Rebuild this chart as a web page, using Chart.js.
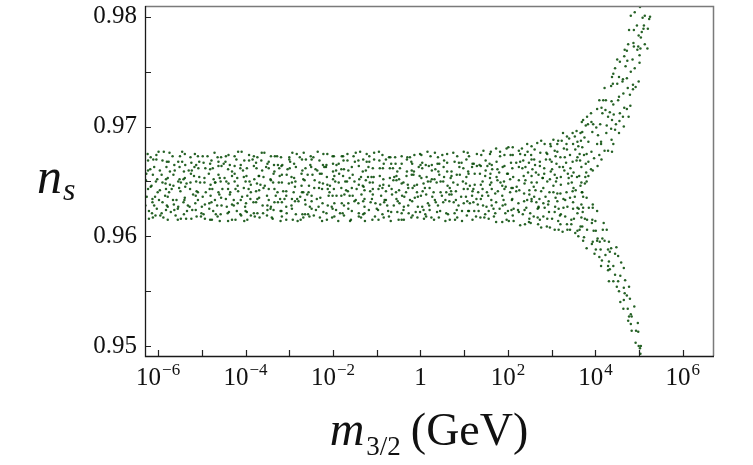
<!DOCTYPE html>
<html>
<head>
<meta charset="utf-8">
<script src="https://cdn.jsdelivr.net/npm/chart.js@4"></script>
<style>
  html, body { margin: 0; padding: 0; background: #fff; overflow: hidden; }
  canvas { display: block; }
</style>
</head>
<body>
<canvas id="chart" width="753" height="465"></canvas>
<script>
// scan points: [log10(m3/2 / GeV), n_s]
// flat band, 10^-6.3 .. 10^1.7 GeV
const bandPoints = [
  [-6.21,.9616],[-6.21,.9623],[-6.29,.9628],[-6.26,.9636],[-6.23,.9643],[-6.28,.9651],[-6.27,.9657],[-6.23,.9660],[-6.23,.9669],[-6.24,.9675],
  [-6.12,.9617],[-6.14,.9621],[-6.13,.9631],[-6.13,.9634],[-6.17,.9645],[-6.15,.9646],[-6.12,.9656],[-6.18,.9661],[-6.11,.9670],[-6.17,.9672],
  [-6.06,.9619],[-6.03,.9625],[-6.09,.9628],[-6.07,.9636],[-6.01,.9640],[-6.05,.9650],[-6.02,.9652],[-6.09,.9663],[-6.04,.9670],[-6.04,.9674],
  [-5.95,.9619],[-5.92,.9621],[-5.90,.9631],[-5.98,.9633],[-5.96,.9642],[-5.90,.9649],[-5.92,.9656],[-5.96,.9660],[-5.90,.9669],[-5.99,.9677],
  [-5.88,.9617],[-5.82,.9624],[-5.80,.9628],[-5.84,.9637],[-5.82,.9643],[-5.83,.9648],[-5.82,.9652],[-5.81,.9663],[-5.80,.9668],[-5.87,.9677],
  [-5.78,.9615],[-5.71,.9622],[-5.78,.9627],[-5.78,.9636],[-5.75,.9640],[-5.73,.9647],[-5.78,.9653],[-5.73,.9659],[-5.76,.9668],[-5.74,.9676],
  [-5.60,.9619],[-5.63,.9624],[-5.64,.9629],[-5.66,.9633],[-5.69,.9643],[-5.65,.9646],[-5.65,.9656],[-5.62,.9660],[-5.63,.9665],[-5.67,.9673],
  [-5.55,.9615],[-5.55,.9625],[-5.54,.9627],[-5.58,.9633],[-5.52,.9644],[-5.54,.9650],[-5.51,.9652],[-5.51,.9663],[-5.54,.9668],[-5.50,.9673],
  [-5.48,.9616],[-5.41,.9620],[-5.42,.9631],[-5.40,.9633],[-5.49,.9641],[-5.48,.9649],[-5.42,.9652],[-5.41,.9659],[-5.45,.9668],[-5.45,.9677],
  [-5.36,.9616],[-5.34,.9623],[-5.32,.9628],[-5.39,.9635],[-5.38,.9645],[-5.35,.9648],[-5.39,.9653],[-5.30,.9660],[-5.38,.9665],[-5.39,.9675],
  [-5.24,.9616],[-5.22,.9624],[-5.28,.9627],[-5.20,.9638],[-5.27,.9643],[-5.26,.9649],[-5.25,.9657],[-5.23,.9660],[-5.24,.9667],[-5.26,.9672],
  [-5.12,.9618],[-5.14,.9624],[-5.15,.9630],[-5.14,.9637],[-5.12,.9641],[-5.13,.9650],[-5.18,.9655],[-5.17,.9663],[-5.13,.9665],[-5.16,.9675],
  [-5.02,.9618],[-5.01,.9621],[-5.00,.9627],[-5.09,.9633],[-5.09,.9640],[-5.04,.9649],[-5.06,.9654],[-5.08,.9662],[-5.06,.9668],[-5.09,.9673],
  [-4.93,.9616],[-4.96,.9620],[-4.93,.9629],[-4.98,.9636],[-4.91,.9640],[-4.94,.9649],[-4.94,.9653],[-4.92,.9662],[-4.96,.9667],[-4.98,.9673],
  [-4.81,.9615],[-4.83,.9625],[-4.83,.9630],[-4.80,.9637],[-4.82,.9643],[-4.80,.9647],[-4.84,.9657],[-4.81,.9661],[-4.81,.9666],[-4.87,.9673],
  [-4.77,.9615],[-4.74,.9623],[-4.78,.9631],[-4.70,.9633],[-4.76,.9643],[-4.70,.9649],[-4.73,.9652],[-4.75,.9662],[-4.78,.9669],[-4.71,.9676],
  [-4.64,.9618],[-4.68,.9620],[-4.65,.9628],[-4.60,.9638],[-4.62,.9640],[-4.69,.9649],[-4.62,.9656],[-4.62,.9664],[-4.62,.9668],[-4.64,.9672],
  [-4.59,.9614],[-4.57,.9620],[-4.55,.9628],[-4.56,.9635],[-4.53,.9643],[-4.57,.9650],[-4.59,.9653],[-4.55,.9664],[-4.50,.9666],[-4.56,.9672],
  [-4.40,.9614],[-4.41,.9621],[-4.43,.9627],[-4.45,.9634],[-4.40,.9643],[-4.44,.9650],[-4.48,.9653],[-4.40,.9661],[-4.46,.9668],[-4.45,.9673],
  [-4.31,.9615],[-4.38,.9622],[-4.31,.9629],[-4.36,.9638],[-4.35,.9640],[-4.39,.9648],[-4.31,.9655],[-4.31,.9659],[-4.36,.9665],[-4.39,.9674],
  [-4.23,.9615],[-4.20,.9623],[-4.27,.9628],[-4.27,.9633],[-4.23,.9643],[-4.25,.9650],[-4.25,.9657],[-4.25,.9664],[-4.21,.9670],[-4.25,.9673],
  [-4.10,.9619],[-4.12,.9620],[-4.18,.9630],[-4.11,.9633],[-4.17,.9641],[-4.18,.9646],[-4.19,.9653],[-4.12,.9662],[-4.11,.9665],[-4.17,.9677],
  [-4.03,.9614],[-4.00,.9623],[-4.01,.9627],[-4.08,.9636],[-4.04,.9644],[-4.00,.9650],[-4.04,.9654],[-4.06,.9660],[-4.03,.9669],[-4.09,.9677],
  [-3.96,.9615],[-3.97,.9622],[-3.99,.9630],[-3.96,.9637],[-3.93,.9643],[-3.91,.9650],[-3.98,.9655],[-3.97,.9662],[-3.92,.9669],[-3.92,.9674],
  [-3.88,.9619],[-3.81,.9621],[-3.82,.9631],[-3.89,.9634],[-3.88,.9640],[-3.88,.9647],[-3.80,.9652],[-3.81,.9664],[-3.84,.9670],[-3.81,.9673],
  [-3.79,.9618],[-3.73,.9621],[-3.76,.9631],[-3.73,.9634],[-3.76,.9641],[-3.74,.9648],[-3.70,.9655],[-3.75,.9662],[-3.76,.9667],[-3.73,.9672],
  [-3.68,.9617],[-3.60,.9621],[-3.61,.9628],[-3.69,.9635],[-3.69,.9642],[-3.66,.9647],[-3.69,.9655],[-3.62,.9660],[-3.64,.9669],[-3.63,.9676],
  [-3.51,.9619],[-3.50,.9624],[-3.50,.9628],[-3.51,.9637],[-3.59,.9644],[-3.56,.9646],[-3.59,.9654],[-3.53,.9663],[-3.50,.9666],[-3.57,.9676],
  [-3.40,.9617],[-3.43,.9625],[-3.42,.9627],[-3.47,.9633],[-3.47,.9643],[-3.42,.9651],[-3.43,.9652],[-3.47,.9662],[-3.47,.9668],[-3.42,.9673],
  [-3.38,.9616],[-3.36,.9624],[-3.34,.9631],[-3.31,.9637],[-3.34,.9643],[-3.37,.9649],[-3.36,.9657],[-3.34,.9659],[-3.35,.9665],[-3.33,.9673],
  [-3.20,.9614],[-3.20,.9623],[-3.26,.9631],[-3.21,.9634],[-3.27,.9640],[-3.24,.9649],[-3.22,.9655],[-3.23,.9662],[-3.26,.9665],[-3.28,.9673],
  [-3.17,.9618],[-3.18,.9623],[-3.17,.9631],[-3.11,.9634],[-3.14,.9641],[-3.17,.9649],[-3.17,.9656],[-3.18,.9664],[-3.16,.9665],[-3.19,.9672],
  [-3.07,.9615],[-3.06,.9621],[-3.07,.9627],[-3.07,.9637],[-3.07,.9641],[-3.01,.9648],[-3.06,.9656],[-3.04,.9661],[-3.00,.9670],[-3.00,.9672],
  [-2.92,.9615],[-2.94,.9625],[-2.95,.9628],[-2.94,.9634],[-2.90,.9640],[-2.94,.9649],[-2.95,.9654],[-2.99,.9662],[-2.98,.9668],[-2.93,.9676],
  [-2.81,.9614],[-2.85,.9620],[-2.87,.9632],[-2.82,.9634],[-2.87,.9645],[-2.86,.9650],[-2.89,.9653],[-2.85,.9663],[-2.89,.9666],[-2.83,.9675],
  [-2.74,.9615],[-2.70,.9620],[-2.79,.9632],[-2.75,.9636],[-2.71,.9640],[-2.72,.9646],[-2.72,.9657],[-2.70,.9660],[-2.71,.9670],[-2.76,.9672],
  [-2.68,.9617],[-2.64,.9620],[-2.63,.9629],[-2.64,.9633],[-2.68,.9640],[-2.65,.9651],[-2.68,.9652],[-2.63,.9662],[-2.62,.9670],[-2.67,.9676],
  [-2.54,.9618],[-2.57,.9620],[-2.53,.9627],[-2.59,.9638],[-2.56,.9640],[-2.55,.9646],[-2.58,.9656],[-2.50,.9663],[-2.52,.9665],[-2.51,.9673],
  [-2.44,.9619],[-2.49,.9625],[-2.49,.9632],[-2.49,.9637],[-2.43,.9644],[-2.42,.9651],[-2.47,.9656],[-2.40,.9661],[-2.49,.9670],[-2.45,.9672],
  [-2.30,.9617],[-2.39,.9624],[-2.33,.9627],[-2.37,.9634],[-2.32,.9644],[-2.31,.9649],[-2.30,.9657],[-2.36,.9660],[-2.31,.9669],[-2.35,.9677],
  [-2.25,.9614],[-2.22,.9622],[-2.24,.9630],[-2.29,.9635],[-2.25,.9643],[-2.23,.9648],[-2.26,.9657],[-2.20,.9663],[-2.23,.9665],[-2.22,.9675],
  [-2.14,.9615],[-2.15,.9621],[-2.12,.9628],[-2.10,.9637],[-2.12,.9643],[-2.13,.9647],[-2.14,.9654],[-2.16,.9663],[-2.15,.9665],[-2.13,.9675],
  [-2.02,.9617],[-2.01,.9625],[-2.03,.9627],[-2.01,.9637],[-2.08,.9640],[-2.07,.9646],[-2.00,.9652],[-2.00,.9659],[-2.00,.9666],[-2.01,.9673],
  [-1.97,.9618],[-1.93,.9624],[-1.97,.9630],[-1.92,.9637],[-1.98,.9643],[-1.95,.9650],[-1.97,.9655],[-1.93,.9660],[-1.92,.9665],[-1.98,.9673],
  [-1.88,.9614],[-1.84,.9621],[-1.80,.9630],[-1.81,.9637],[-1.81,.9644],[-1.87,.9649],[-1.86,.9657],[-1.81,.9661],[-1.87,.9666],[-1.80,.9673],
  [-1.75,.9619],[-1.78,.9621],[-1.75,.9628],[-1.74,.9638],[-1.70,.9642],[-1.72,.9650],[-1.77,.9655],[-1.75,.9661],[-1.76,.9669],[-1.77,.9673],
  [-1.61,.9614],[-1.65,.9625],[-1.65,.9630],[-1.62,.9637],[-1.66,.9641],[-1.68,.9650],[-1.62,.9653],[-1.65,.9660],[-1.67,.9669],[-1.67,.9675],
  [-1.59,.9615],[-1.57,.9623],[-1.51,.9632],[-1.55,.9637],[-1.57,.9644],[-1.51,.9650],[-1.55,.9656],[-1.57,.9663],[-1.50,.9668],[-1.53,.9673],
  [-1.41,.9618],[-1.41,.9621],[-1.42,.9630],[-1.48,.9633],[-1.46,.9643],[-1.41,.9647],[-1.40,.9652],[-1.41,.9664],[-1.42,.9669],[-1.48,.9676],
  [-1.36,.9617],[-1.31,.9620],[-1.31,.9632],[-1.35,.9638],[-1.30,.9645],[-1.32,.9646],[-1.36,.9654],[-1.32,.9659],[-1.31,.9670],[-1.38,.9677],
  [-1.27,.9614],[-1.28,.9621],[-1.28,.9627],[-1.28,.9634],[-1.28,.9642],[-1.25,.9651],[-1.20,.9654],[-1.25,.9660],[-1.23,.9668],[-1.23,.9675],
  [-1.10,.9615],[-1.18,.9624],[-1.14,.9631],[-1.11,.9634],[-1.15,.9641],[-1.16,.9649],[-1.12,.9654],[-1.19,.9663],[-1.17,.9668],[-1.17,.9673],
  [-1.04,.9618],[-1.00,.9625],[-1.03,.9630],[-1.09,.9638],[-1.09,.9643],[-1.09,.9649],[-1.07,.9654],[-1.09,.9662],[-1.06,.9670],[-1.06,.9676],
  [-0.96,.9615],[-0.97,.9624],[-0.92,.9629],[-0.90,.9637],[-0.96,.9643],[-0.93,.9646],[-0.93,.9655],[-0.93,.9662],[-0.94,.9669],[-0.95,.9677],
  [-0.84,.9617],[-0.87,.9620],[-0.83,.9631],[-0.82,.9633],[-0.87,.9644],[-0.85,.9647],[-0.85,.9652],[-0.86,.9662],[-0.84,.9666],[-0.87,.9674],
  [-0.72,.9618],[-0.74,.9623],[-0.76,.9628],[-0.79,.9633],[-0.79,.9641],[-0.72,.9646],[-0.70,.9653],[-0.70,.9662],[-0.79,.9670],[-0.72,.9672],
  [-0.68,.9614],[-0.67,.9622],[-0.61,.9628],[-0.65,.9638],[-0.66,.9643],[-0.62,.9651],[-0.60,.9654],[-0.63,.9662],[-0.67,.9666],[-0.69,.9672],
  [-0.50,.9615],[-0.53,.9622],[-0.52,.9632],[-0.55,.9634],[-0.56,.9640],[-0.55,.9651],[-0.55,.9655],[-0.53,.9659],[-0.57,.9666],[-0.58,.9672],
  [-0.43,.9615],[-0.43,.9621],[-0.48,.9630],[-0.42,.9637],[-0.49,.9642],[-0.43,.9648],[-0.49,.9652],[-0.47,.9662],[-0.43,.9666],[-0.43,.9673],
  [-0.38,.9615],[-0.39,.9624],[-0.38,.9627],[-0.37,.9636],[-0.33,.9640],[-0.39,.9649],[-0.32,.9655],[-0.31,.9659],[-0.31,.9670],[-0.30,.9672],
  [-0.21,.9617],[-0.27,.9621],[-0.28,.9628],[-0.24,.9633],[-0.28,.9644],[-0.29,.9647],[-0.20,.9656],[-0.20,.9660],[-0.21,.9668],[-0.24,.9672],
  [-0.18,.9619],[-0.11,.9622],[-0.19,.9632],[-0.13,.9635],[-0.18,.9644],[-0.14,.9646],[-0.16,.9656],[-0.15,.9659],[-0.19,.9666],[-0.14,.9674],
  [-0.07,.9617],[-0.01,.9622],[-0.06,.9627],[-0.06,.9636],[-0.08,.9640],[-0.08,.9647],[-0.02,.9655],[-0.04,.9663],[0.00,.9665],[-0.01,.9675],
  [0.08,.9616],[0.07,.9624],[0.04,.9627],[0.01,.9637],[0.05,.9641],[0.07,.9648],[0.02,.9653],[0.04,.9662],[0.04,.9667],[0.02,.9674],
  [0.13,.9618],[0.11,.9620],[0.17,.9630],[0.13,.9638],[0.10,.9644],[0.17,.9650],[0.14,.9654],[0.19,.9664],[0.12,.9665],[0.16,.9677],
  [0.25,.9617],[0.21,.9624],[0.20,.9628],[0.27,.9636],[0.21,.9644],[0.23,.9650],[0.26,.9652],[0.26,.9660],[0.26,.9665],[0.23,.9673],
  [0.31,.9615],[0.38,.9622],[0.35,.9631],[0.33,.9633],[0.30,.9640],[0.37,.9649],[0.32,.9652],[0.34,.9661],[0.39,.9666],[0.33,.9676],
  [0.42,.9617],[0.45,.9623],[0.40,.9628],[0.49,.9637],[0.46,.9640],[0.46,.9650],[0.43,.9656],[0.41,.9659],[0.43,.9666],[0.40,.9672],
  [0.57,.9614],[0.59,.9621],[0.52,.9631],[0.57,.9633],[0.59,.9640],[0.52,.9650],[0.54,.9654],[0.53,.9663],[0.54,.9669],[0.50,.9674],
  [0.67,.9615],[0.63,.9620],[0.66,.9632],[0.66,.9638],[0.67,.9644],[0.62,.9646],[0.69,.9653],[0.61,.9659],[0.61,.9667],[0.61,.9675],
  [0.79,.9615],[0.78,.9621],[0.76,.9631],[0.71,.9638],[0.70,.9641],[0.75,.9649],[0.71,.9655],[0.71,.9659],[0.78,.9668],[0.75,.9676],
  [0.84,.9617],[0.83,.9624],[0.87,.9628],[0.81,.9633],[0.81,.9641],[0.85,.9647],[0.83,.9656],[0.89,.9663],[0.88,.9667],[0.84,.9673],
  [0.95,.9614],[0.95,.9623],[0.99,.9630],[0.93,.9636],[0.99,.9643],[0.97,.9650],[0.90,.9656],[0.98,.9662],[0.94,.9667],[0.99,.9677],
  [1.06,.9619],[1.09,.9623],[1.07,.9632],[1.04,.9636],[1.08,.9643],[1.04,.9648],[1.05,.9654],[1.09,.9659],[1.05,.9670],[1.08,.9676],
  [1.19,.9615],[1.11,.9623],[1.13,.9630],[1.18,.9637],[1.19,.9641],[1.13,.9646],[1.10,.9657],[1.18,.9663],[1.19,.9666],[1.11,.9673],
  [1.27,.9618],[1.23,.9623],[1.21,.9631],[1.28,.9634],[1.21,.9643],[1.24,.9647],[1.24,.9657],[1.29,.9664],[1.22,.9666],[1.29,.9675],
  [1.37,.9617],[1.33,.9623],[1.31,.9629],[1.38,.9634],[1.32,.9640],[1.38,.9647],[1.36,.9657],[1.38,.9664],[1.35,.9665],[1.39,.9674],
  [1.46,.9617],[1.48,.9620],[1.43,.9628],[1.41,.9637],[1.42,.9643],[1.42,.9650],[1.48,.9655],[1.49,.9660],[1.49,.9669],[1.44,.9678],
  [1.56,.9616],[1.56,.9623],[1.51,.9627],[1.55,.9637],[1.52,.9640],[1.59,.9647],[1.59,.9653],[1.53,.9664],[1.58,.9666],[1.59,.9675],
  [1.68,.9618],[1.67,.9625],[1.63,.9628],[1.62,.9633],[1.63,.9643],[1.62,.9649],[1.60,.9657],[1.64,.9661],[1.63,.9665],[1.61,.9677]
];

// widening part before the split, 10^1.7 .. 10^3.86 GeV
const transitionPoints = [
  [1.73,.9613],[1.71,.9621],[1.73,.9631],[1.71,.9639],[1.77,.9641],[1.76,.9651],[1.74,.9654],[1.76,.9661],[1.74,.9668],[1.73,.9680],
  [1.87,.9613],[1.81,.9625],[1.88,.9628],[1.87,.9637],[1.87,.9646],[1.83,.9649],[1.80,.9658],[1.88,.9663],[1.82,.9673],[1.82,.9677],
  [1.97,.9615],[1.94,.9621],[1.94,.9629],[1.90,.9633],[1.92,.9643],[1.95,.9645],[1.91,.9650],[1.98,.9657],[1.92,.9664],[1.92,.9674],[1.97,.9680],
  [2.02,.9614],[2.00,.9623],[2.08,.9624],[2.09,.9633],[2.05,.9640],[2.08,.9644],[2.05,.9652],[2.00,.9657],[2.07,.9667],[2.06,.9674],[2.01,.9681],
  [2.13,.9614],[2.11,.9619],[2.13,.9625],[2.10,.9634],[2.19,.9641],[2.11,.9644],[2.12,.9654],[2.10,.9662],[2.19,.9667],[2.11,.9674],[2.11,.9681],
  [2.28,.9610],[2.25,.9622],[2.23,.9624],[2.24,.9630],[2.26,.9642],[2.20,.9645],[2.25,.9651],[2.25,.9663],[2.28,.9668],[2.28,.9675],[2.25,.9678],
  [2.39,.9611],[2.34,.9620],[2.38,.9624],[2.37,.9632],[2.37,.9639],[2.38,.9648],[2.36,.9655],[2.33,.9662],[2.35,.9669],[2.39,.9674],[2.32,.9680],
  [2.48,.9613],[2.49,.9616],[2.42,.9626],[2.44,.9633],[2.49,.9638],[2.49,.9642],[2.40,.9651],[2.46,.9658],[2.40,.9663],[2.48,.9667],[2.45,.9677],[2.44,.9684],
  [2.52,.9612],[2.59,.9618],[2.51,.9621],[2.54,.9632],[2.54,.9634],[2.59,.9645],[2.54,.9649],[2.54,.9655],[2.56,.9661],[2.54,.9670],[2.53,.9674],[2.54,.9682],
  [2.69,.9611],[2.68,.9617],[2.68,.9625],[2.65,.9631],[2.60,.9636],[2.63,.9642],[2.66,.9649],[2.64,.9658],[2.62,.9665],[2.60,.9670],[2.61,.9679],[2.67,.9685],
  [2.76,.9608],[2.73,.9615],[2.70,.9626],[2.70,.9627],[2.72,.9634],[2.76,.9641],[2.79,.9653],[2.70,.9656],[2.73,.9664],[2.73,.9668],[2.74,.9676],[2.76,.9687],
  [2.89,.9609],[2.81,.9618],[2.84,.9626],[2.81,.9630],[2.86,.9636],[2.81,.9644],[2.80,.9653],[2.83,.9657],[2.83,.9662],[2.87,.9670],[2.88,.9676],[2.84,.9684],
  [2.96,.9608],[2.90,.9616],[2.94,.9622],[2.92,.9629],[2.93,.9632],[2.95,.9640],[2.90,.9650],[2.96,.9652],[2.98,.9659],[2.96,.9670],[2.90,.9675],[2.98,.9682],[2.97,.9684],
  [3.07,.9606],[3.01,.9616],[3.07,.9622],[3.08,.9627],[3.09,.9635],[3.04,.9640],[3.04,.9646],[3.07,.9656],[3.01,.9661],[3.00,.9668],[3.09,.9673],[3.07,.9678],[3.04,.9688],
  [3.16,.9606],[3.15,.9614],[3.19,.9619],[3.16,.9625],[3.13,.9632],[3.13,.9639],[3.10,.9650],[3.12,.9653],[3.18,.9663],[3.11,.9666],[3.13,.9677],[3.13,.9684],[3.15,.9687],
  [3.25,.9604],[3.20,.9611],[3.21,.9620],[3.27,.9626],[3.27,.9634],[3.20,.9639],[3.21,.9647],[3.21,.9654],[3.29,.9660],[3.26,.9663],[3.20,.9672],[3.28,.9680],[3.23,.9687],[3.26,.9694],
  [3.36,.9606],[3.35,.9611],[3.31,.9618],[3.36,.9627],[3.31,.9633],[3.34,.9640],[3.38,.9648],[3.39,.9653],[3.37,.9657],[3.33,.9667],[3.30,.9672],[3.35,.9679],[3.34,.9684],[3.35,.9691],
  [3.42,.9606],[3.45,.9611],[3.45,.9615],[3.49,.9625],[3.49,.9631],[3.42,.9635],[3.48,.9641],[3.46,.9649],[3.46,.9655],[3.43,.9662],[3.48,.9668],[3.42,.9674],[3.49,.9684],[3.40,.9689],[3.48,.9694],
  [3.54,.9603],[3.59,.9605],[3.51,.9616],[3.59,.9621],[3.59,.9626],[3.53,.9636],[3.55,.9642],[3.50,.9644],[3.58,.9654],[3.50,.9658],[3.57,.9669],[3.59,.9672],[3.54,.9679],[3.59,.9686],[3.53,.9691],[3.57,.9696],
  [3.61,.9600],[3.64,.9606],[3.66,.9609],[3.68,.9617],[3.62,.9625],[3.68,.9629],[3.69,.9640],[3.66,.9646],[3.68,.9649],[3.63,.9655],[3.68,.9663],[3.65,.9669],[3.64,.9675],[3.61,.9682],[3.67,.9687],[3.66,.9694],[3.69,.9704],
  [3.72,.9596],[3.74,.9599],[3.70,.9609],[3.76,.9616],[3.71,.9622],[3.72,.9626],[3.72,.9636],[3.70,.9640],[3.76,.9648],[3.77,.9654],[3.79,.9658],[3.78,.9666],[3.74,.9674],[3.70,.9681],[3.75,.9690],[3.70,.9695],[3.78,.9701],[3.72,.9706],
  [3.80,.9589],[3.81,.9606],[3.81,.9615],[3.85,.9626],[3.80,.9635],[3.80,.9650],[3.84,.9655],[3.84,.9668],[3.80,.9675],[3.84,.9686],[3.83,.9702],[3.81,.9709]
];

// branch that turns up (n_s -> 0.98)
const upperBranch = [
  [3.94,.9660],[3.90,.9661],[3.97,.9671],[3.91,.9677],[3.93,.9695],[3.95,.9702],[3.91,.9704],[3.90,.9712],
  [4.05,.9664],[4.09,.9674],[4.04,.9684],[4.06,.9692],[4.02,.9699],[4.04,.9716],[4.09,.9724],
  [4.14,.9670],[4.13,.9684],[4.13,.9686],[4.11,.9702],[4.16,.9712],[4.14,.9717],[4.18,.9724],
  [4.21,.9678],[4.29,.9678],[4.25,.9694],[4.26,.9701],[4.29,.9709],[4.23,.9715],[4.24,.9724],[4.21,.9735],
  [4.38,.9677],[4.37,.9688],[4.36,.9698],[4.38,.9706],[4.33,.9713],[4.37,.9723],[4.36,.9737],[4.38,.9745],
  [4.41,.9684],[4.45,.9697],[4.47,.9702],[4.42,.9711],[4.41,.9720],[4.40,.9739],[4.41,.9748],[4.45,.9753],
  [4.54,.9694],[4.55,.9705],[4.56,.9712],[4.52,.9724],[4.54,.9727],[4.50,.9739],[4.54,.9745],[4.56,.9759],[4.50,.9761],
  [4.65,.9700],[4.63,.9709],[4.66,.9717],[4.64,.9730],[4.62,.9741],[4.63,.9743],[4.69,.9755],[4.66,.9764],[4.67,.9770],
  [4.76,.9709],[4.72,.9716],[4.79,.9729],[4.74,.9735],[4.72,.9744],[4.73,.9760],[4.72,.9769],[4.75,.9775],[4.77,.9788],
  [4.80,.9719],[4.86,.9734],[4.86,.9738],[4.81,.9750],[4.85,.9761],[4.88,.9773],[4.87,.9776],[4.88,.9788],[4.81,.9801],
  [4.92,.9736],[4.99,.9741],[4.90,.9753],[4.96,.9770],[4.98,.9773],[4.99,.9783],[4.95,.9792],[4.90,.9804],
  [5.01,.9758],[5.01,.9765],[5.03,.9771],[5.04,.9781],[5.06,.9786],[5.08,.9799],[5.02,.9809],
  [5.19,.9771],[5.13,.9775],[5.10,.9789],[5.11,.9792],[5.13,.9801],
  [5.20,.9789],[5.23,.9798],[5.25,.9800]
];

// branch that turns down (n_s -> 0.95)
const lowerBranch = [
  [3.98,.9584],[3.92,.9593],[3.94,.9595],[3.96,.9605],[3.92,.9612],[3.93,.9615],[3.94,.9626],[3.94,.9629],
  [4.09,.9581],[4.01,.9588],[4.04,.9596],[4.05,.9598],[4.01,.9605],[4.00,.9614],[4.04,.9623],
  [4.13,.9573],[4.15,.9578],[4.12,.9588],[4.10,.9595],[4.16,.9598],[4.17,.9606],[4.19,.9612],
  [4.29,.9569],[4.29,.9573],[4.23,.9583],[4.29,.9588],[4.21,.9596],[4.26,.9606],
  [4.31,.9559],[4.33,.9570],[4.31,.9577],[4.33,.9586],[4.36,.9589],[4.31,.9595],
  [4.49,.9554],[4.41,.9559],[4.45,.9565],[4.41,.9573],[4.45,.9584],[4.48,.9590],
  [4.57,.9540],[4.54,.9550],[4.52,.9559],[4.57,.9564],[4.59,.9576],[4.52,.9582],
  [4.64,.9534],[4.65,.9542],[4.67,.9548],[4.65,.9553],[4.68,.9560],[4.65,.9571],
  [4.75,.9523],[4.77,.9527],[4.74,.9534],[4.79,.9543],[4.72,.9546],[4.77,.9554],
  [4.83,.9514],[4.81,.9520],[4.83,.9527],[4.81,.9529],[4.89,.9536],
  [4.99,.9500],[4.92,.9503],[4.98,.9513],[4.93,.9514],[4.97,.9521],
  [5.03,.9493],[5.02,.9498],[5.04,.9500]
];

// axes
const xRangeLog = [-6.30, 6.69];
const xTickDecades = [-6, -5, -4, -3, -2, -1, 0, 1, 2, 3, 4, 5, 6];
const xLabelDecades = [-6, -4, -2, 0, 2, 4, 6];
const yRange = [0.94909, 0.98098];
const yTicks = [0.95, 0.955, 0.96, 0.965, 0.97, 0.975, 0.98];
const yLabelled = [0.95, 0.96, 0.97, 0.98];

const SERIF = '"Liberation Serif", "DejaVu Serif", serif';

const allPoints = [...bandPoints, ...transitionPoints, ...upperBranch, ...lowerBranch]
  .map(([lm, ns]) => ({ x: Math.pow(10, lm), y: ns }));

// frame, inward ticks, 10^n labels and the two axis titles
const decorPlugin = {
  id: 'decor',
  afterDraw(chart) {
    const { ctx, chartArea: a, scales: { x, y } } = chart;
    ctx.save();

    // ticks (inside the box)
    ctx.strokeStyle = '#222';
    ctx.lineWidth = 1.2;
    ctx.beginPath();
    xTickDecades.forEach(d => {
      const px = Math.round(x.getPixelForValue(Math.pow(10, d))) + 0.5;
      ctx.moveTo(px, a.bottom);
      ctx.lineTo(px, a.bottom - 6);
    });
    yTicks.forEach(v => {
      const py = Math.round(y.getPixelForValue(v)) + 0.5;
      ctx.moveTo(a.left, py);
      ctx.lineTo(a.left + 6, py);
    });
    ctx.stroke();

    // box: top/right grey, left/bottom dark
    ctx.lineWidth = 1.5;
    ctx.strokeStyle = '#7a7a7a';
    ctx.beginPath();
    ctx.moveTo(a.left, a.top + 0.5);
    ctx.lineTo(a.right + 0.5, a.top + 0.5);
    ctx.lineTo(a.right + 0.5, a.bottom);
    ctx.stroke();
    ctx.strokeStyle = '#1a1a1a';
    ctx.lineWidth = 1.3;
    ctx.beginPath();
    ctx.moveTo(a.left + 0.5, a.top);
    ctx.lineTo(a.left + 0.5, a.bottom + 0.5);
    ctx.lineTo(a.right + 1, a.bottom + 0.5);
    ctx.stroke();

    // x tick labels: 10^n
    ctx.fillStyle = '#111';
    ctx.textBaseline = 'alphabetic';
    ctx.textAlign = 'left';
    const base = a.bottom + 29;
    xLabelDecades.forEach(d => {
      const px = x.getPixelForValue(Math.pow(10, d));
      if (d === 0) {
        ctx.font = '25px ' + SERIF;
        const w = ctx.measureText('1').width;
        ctx.fillText('1', px - w / 2, base);
        return;
      }
      const exp = (d < 0 ? '\u2212' : '') + Math.abs(d);
      ctx.font = '25px ' + SERIF;
      const w1 = ctx.measureText('10').width;
      ctx.font = '17px ' + SERIF;
      const w2 = ctx.measureText(exp).width;
      const left = px - (w1 + 1 + w2) / 2;
      ctx.font = '25px ' + SERIF;
      ctx.fillText('10', left, base);
      ctx.font = '17px ' + SERIF;
      ctx.fillText(exp, left + w1 + 1, base - 10);
    });

    // y title: n_s
    ctx.font = 'italic 50px ' + SERIF;
    ctx.fillText('n', 37, 193);
    const wn = ctx.measureText('n').width;
    ctx.font = 'italic 32px ' + SERIF;
    ctx.fillText('s', 37 + wn + 1, 200);

    // x title: m_{3/2} (GeV)
    const parts = [
      { t: 'm', f: 'italic 48px ' + SERIF, dy: 0, gap: 2 },
      { t: '3/2', f: '27px ' + SERIF, dy: 10, gap: 10 },
      { t: '(GeV)', f: '46px ' + SERIF, dy: 0, gap: 0 }
    ];
    let total = 0;
    parts.forEach(p => { ctx.font = p.f; p.w = ctx.measureText(p.t).width; total += p.w + p.gap; });
    let cx = (a.left + a.right) / 2 - total / 2;
    const tb = 445;
    parts.forEach(p => {
      ctx.font = p.f;
      ctx.fillText(p.t, cx, tb + p.dy);
      cx += p.w + p.gap;
    });

    ctx.restore();
  }
};

new Chart(document.getElementById('chart'), {
  type: 'scatter',
  data: {
    datasets: [{
      data: allPoints,
      pointRadius: 1.25,
      pointHoverRadius: 1.25,
      pointBorderWidth: 0,
      pointBackgroundColor: 'rgba(0, 70, 0, 0.85)'
    }]
  },
  options: {
    responsive: false,
    animation: false,
    devicePixelRatio: 1,
    layout: { padding: { top: 6, right: 40, left: 0, bottom: 0 } },
    plugins: { legend: { display: false }, tooltip: { enabled: false } },
    scales: {
      x: {
        type: 'logarithmic',
        bounds: 'data',
        min: Math.pow(10, xRangeLog[0]),
        max: Math.pow(10, xRangeLog[1]),
        grid: { display: false, drawTicks: false },
        border: { display: false },
        ticks: { display: false },
        afterFit(s) { s.height = 109; s.paddingLeft = 0; s.paddingRight = 0; }
      },
      y: {
        bounds: 'data',
        min: yRange[0],
        max: yRange[1],
        grid: { display: false, drawTicks: false },
        border: { display: false },
        afterBuildTicks(s) { s.ticks = yTicks.map(value => ({ value })); },
        ticks: {
          autoSkip: false,
          padding: 8,
          color: '#111',
          font: { family: SERIF, size: 25 },
          callback: v => yLabelled.includes(v) ? v.toFixed(2) : ''
        },
        afterFit(s) { s.width = 145; s.paddingTop = 0; s.paddingBottom = 0; }
      }
    }
  },
  plugins: [decorPlugin]
});
</script>
</body>
</html>
